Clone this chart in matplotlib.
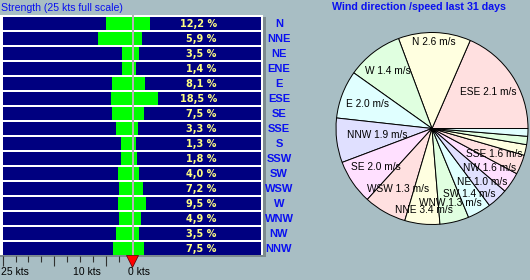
import matplotlib
matplotlib.use('Agg')
import matplotlib.pyplot as plt
from matplotlib.patches import Rectangle
import numpy as np

directions = ['N', 'NNE', 'NE', 'ENE', 'E', 'ESE', 'SE', 'SSE',
              'S', 'SSW', 'SW', 'WSW', 'W', 'WNW', 'NW', 'NNW']
percent = [12.2, 5.9, 3.5, 1.4, 8.1, 18.5, 7.5, 3.3,
           1.3, 1.8, 4.0, 7.2, 9.5, 4.9, 3.5, 7.5]
speed_ms = [2.6, 3.4, 1.0, 1.0, 2.0, 2.1, 2.0, 1.6,
            1.1, 1.1, 1.4, 1.3, 1.4, 1.3, 1.6, 1.9]
# order of the slices in the pie (largest first, counter-clockwise from east)
pie_order = ['ESE', 'N', 'W', 'E', 'NNW', 'SE', 'WSW', 'NNE',
             'WNW', 'SW', 'NE', 'NW', 'SSE', 'SSW', 'ENE', 'S']
kts_per_ms = 1.944

BG = '#A8BEC4'
NAVY = '#000080'
GREEN = '#00FF00'
BLUE = '#0A10F0'
pastel = ['#FFE0E0', '#FFFFE0', '#E0FFE0', '#E0FFFF', '#E0E0FF', '#FFE0FF']
label_r = [0.70, 0.90, 0.76, 0.72, 0.58, 0.71, 0.72, 0.85,
           0.80, 0.78, 0.76, 0.73, 0.70, None, None, None]

W, H = 530, 280
fig = plt.figure(figsize=(W / 100, H / 100), dpi=100, facecolor=BG)


def px(x0, y0, x1, y1):
    # pixel box (top-left origin) -> figure fraction rect
    return [x0 / W, (H - y1) / H, (x1 - x0) / W, (y1 - y0) / H]


# background shapes (pixel coordinates)
bg = fig.add_axes([0, 0, 1, 1])
bg.set_xlim(0, W)
bg.set_ylim(H, 0)
bg.axis('off')
bg.add_patch(Rectangle((0, 15), 263, 241.5, color='white', lw=0))
bg.add_patch(Rectangle((263, 17), 2.5, 240, color='#7C8A8E', lw=0))
bg.add_patch(Rectangle((0, 255.2), 265.5, 1.8, color='#7C8A8E', lw=0))
bg.add_patch(Rectangle((132.2, 15), 2, 241, color='#B4B4B4', lw=0))

n = len(directions)
rows = np.arange(n)
bar_h = 0.85

# left half: wind speed in kts (25 kts full scale)
axl = fig.add_axes(px(2.7, 16.1, 131.7, 256.1))
axl.patch.set_alpha(0)
axl.barh(rows, [25] * n, height=bar_h, color=NAVY, lw=0)
axl.barh(rows, [s * kts_per_ms for s in speed_ms], height=bar_h, color=GREEN, lw=0)
axl.set_xlim(25, 0)
axl.set_ylim(n - 0.5, -0.5)
for sp in axl.spines.values():
    sp.set_visible(False)
axl.set_yticks([])
axl.set_xticks([25, 15, 5])
axl.set_xticks([22.5, 20, 17.5, 12.5, 10, 7.5, 2.5], minor=True)
axl.tick_params(axis='x', which='major', length=7, width=0.8, color='#303030',
                labelbottom=False, pad=0)
axl.tick_params(axis='x', which='minor', length=4.5, width=0.8, color='#303030')
tr = axl.get_xaxis_transform()
for xk, lab in [(25.3, '25 kts'), (11.4, '10 kts'), (0.7, '0 kts')]:
    axl.text(xk, -0.068, lab, transform=tr, ha='left', va='center',
             fontsize=7.5, family='Liberation Sans', color='black')
axl.plot([0], [-0.021], marker='v', ms=9, color='#FF0000', mec='#500000',
         mew=0.5, transform=tr, clip_on=False)

axl.text(-0.01, 1.035, 'Strength (25 kts full scale)', transform=axl.transAxes,
         ha='left', va='center', fontsize=7.6, family='Liberation Sans', color=BLUE)

# right half: frequency in %
axr = fig.add_axes(px(134.3, 16.1, 261, 256.1))
axr.patch.set_alpha(0)
axr.barh(rows, [100] * n, height=bar_h, color=NAVY, lw=0)
axr.barh(rows, percent, height=bar_h, color=GREEN, lw=0)
axr.set_xlim(0, 100)
axr.set_ylim(n - 0.5, -0.5)
axr.axis('off')
for i, p in enumerate(percent):
    axr.text(65.1, i + 0.05, f'{p:.1f} %'.replace('.', ','), ha='right', va='center',
             fontsize=7, fontweight='bold', family='DejaVu Sans', color='#FFFF80')
    axr.text(114.2, i + 0.05, directions[i], ha='center', va='center', clip_on=False,
             fontsize=8, fontweight='bold', family='Liberation Sans', color=BLUE)

# pie chart
fig.text(419 / W, (H - 7) / H, 'Wind direction /speed last 31 days', ha='center',
         va='center', fontsize=7.7, fontweight='bold', family='Liberation Sans',
         color=BLUE)
idx = [directions.index(d) for d in pie_order]
pie_vals = [percent[i] for i in idx]
lim = 1.02
R = 96
axp = fig.add_axes(px(432 - R * lim, 128.5 - R * lim, 432 + R * lim, 128.5 + R * lim))
wedges, _ = axp.pie(pie_vals, colors=[pastel[k % 6] for k in range(n)],
                    startangle=0, counterclock=True,
                    wedgeprops=dict(edgecolor='black', linewidth=0.7))
axp.set_xlim(-lim, lim)
axp.set_ylim(-lim, lim)
axp.set_aspect('equal')
for k, w in enumerate(wedges):
    if label_r[k] is None:
        continue
    a = np.deg2rad((w.theta1 + w.theta2) / 2)
    i = idx[k]
    axp.text(label_r[k] * np.cos(a), label_r[k] * np.sin(a),
             f'{directions[i]} {speed_ms[i]:.1f} m/s', ha='center', va='center',
             fontsize=7.3, family='Liberation Sans', color='black')

fig.savefig('out.png', dpi=100, facecolor=BG)
